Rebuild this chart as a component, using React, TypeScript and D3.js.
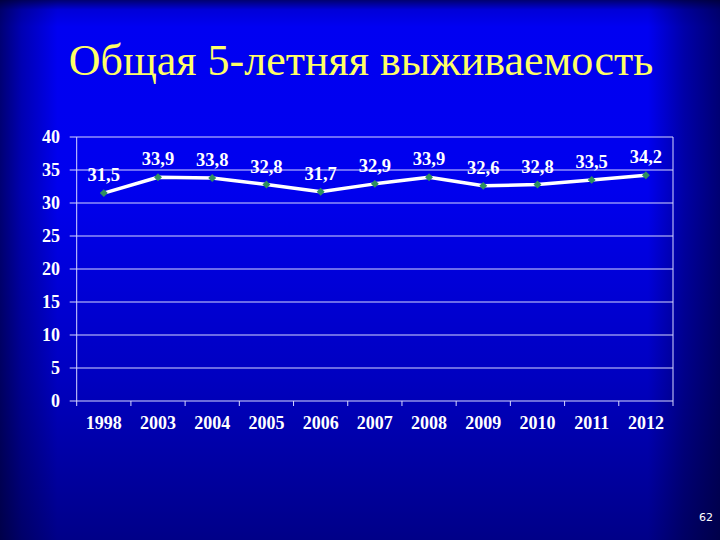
import React, { useEffect, useRef } from 'react';
import * as d3 from 'd3';

// ====

const years = ['1998', '2003', '2004', '2005', '2006', '2007', '2008', '2009', '2010', '2011', '2012'];
const survival = [31.5, 33.9, 33.8, 32.8, 31.7, 32.9, 33.9, 32.6, 32.8, 33.5, 34.2];
const yTicks = [0, 5, 10, 15, 20, 25, 30, 35, 40];

const title = 'Общая 5-летняя выживаемость';
const pageNumber = '62';

// ====

export default function App() {
    const node = useRef<SVGSVGElement | null>(null);

    useEffect(() => {
        const svg = d3.select(node.current);
        svg.selectAll('*').remove();

        const width = 720;
        const height = 540;
        const left = 76.7, right = 673, top = 137, bottom = 401;
        const serif = 'Times New Roman, serif';

        // background
        const defs = svg.append('defs');
        const vg = defs.append('linearGradient').attr('id', 'bgV').attr('x1', 0).attr('y1', 0).attr('x2', 0).attr('y2', 1);
        [[0, '#000070'], [0.018, '#0000d8'], [0.05, '#0000f2'], [0.35, '#0000ee'], [0.7, '#0000c0'], [1, '#000088']]
            .forEach(([o, c]) => vg.append('stop').attr('offset', o).attr('stop-color', c));
        const hg = defs.append('linearGradient').attr('id', 'bgH').attr('x1', 0).attr('y1', 0).attr('x2', 1).attr('y2', 0);
        [[0, 0.6], [0.03, 0.3], [0.08, 0], [0.9, 0], [0.95, 0.35], [1, 0.6]]
            .forEach(([o, a]) => hg.append('stop').attr('offset', o).attr('stop-color', '#000020').attr('stop-opacity', a));

        svg.append('rect').attr('width', width).attr('height', height).attr('fill', 'url(#bgV)');
        svg.append('rect').attr('width', width).attr('height', height).attr('fill', 'url(#bgH)');

        // title
        svg.append('text')
            .attr('x', 361)
            .attr('y', 75)
            .attr('text-anchor', 'middle')
            .style('font-family', serif)
            .style('font-size', '44px')
            .attr('fill', '#ffff66')
            .text(title);

        const x = d3.scaleBand().domain(years).range([left, right]);
        const y = d3.scaleLinear().domain([0, 40]).range([bottom, top]);

        // grid + y labels
        const g = svg.append('g');
        g.selectAll('.grid')
            .data(yTicks)
            .enter()
            .append('line')
            .attr('x1', left - 7)
            .attr('x2', right)
            .attr('y1', (d) => y(d))
            .attr('y2', (d) => y(d))
            .attr('stroke', '#d8d8ff')
            .attr('stroke-width', 1);

        g.selectAll('.ylab')
            .data(yTicks)
            .enter()
            .append('text')
            .attr('x', 60)
            .attr('y', (d) => y(d) + 6)
            .attr('text-anchor', 'end')
            .style('font-family', serif)
            .style('font-weight', 'bold')
            .style('font-size', '18px')
            .attr('fill', '#ffffff')
            .text((d) => d);

        // frame
        g.append('line').attr('x1', left).attr('x2', left).attr('y1', top).attr('y2', bottom).attr('stroke', '#d8d8ff');
        g.append('line').attr('x1', right).attr('x2', right).attr('y1', top).attr('y2', bottom).attr('stroke', '#d8d8ff');

        // x ticks at band edges
        const edges = years.map((d) => x(d) as number).concat([right]);
        g.selectAll('.xtick')
            .data(edges)
            .enter()
            .append('line')
            .attr('x1', (d) => d)
            .attr('x2', (d) => d)
            .attr('y1', bottom)
            .attr('y2', bottom + 5)
            .attr('stroke', '#d8d8ff');

        g.selectAll('.xlab')
            .data(years)
            .enter()
            .append('text')
            .attr('x', (d) => (x(d) as number) + x.bandwidth() / 2)
            .attr('y', 429)
            .attr('text-anchor', 'middle')
            .style('font-family', serif)
            .style('font-weight', 'bold')
            .style('font-size', '18px')
            .attr('fill', '#ffffff')
            .text((d) => d);

        // series
        const pts = years.map((d, i) => ({ year: d, value: survival[i] }));
        const cx = (d) => (x(d.year) as number) + x.bandwidth() / 2;

        const line = d3.line<any>().x(cx).y((d) => y(d.value));
        g.append('path')
            .attr('d', line(pts))
            .attr('fill', 'none')
            .attr('stroke', '#ffffff')
            .attr('stroke-width', 3.5)
            .attr('stroke-linejoin', 'round');

        const diamond = d3.symbol().type(d3.symbolDiamond2).size(40);
        g.selectAll('.mark')
            .data(pts)
            .enter()
            .append('path')
            .attr('d', diamond)
            .attr('transform', (d) => 'translate(' + cx(d) + ',' + y(d.value) + ')')
            .attr('fill', '#2f8f5f');

        g.selectAll('.vlab')
            .data(pts)
            .enter()
            .append('text')
            .attr('x', cx)
            .attr('y', (d) => y(d.value) - 12)
            .attr('text-anchor', 'middle')
            .style('font-family', serif)
            .style('font-weight', 'bold')
            .style('font-size', '18.5px')
            .attr('fill', '#ffffff')
            .text((d) => d3.format('.1f')(d.value).replace('.', ','));

        // page number
        svg.append('text')
            .attr('x', 706)
            .attr('y', 521)
            .attr('text-anchor', 'middle')
            .style('font-family', 'DejaVu Sans, sans-serif')
            .style('font-size', '11px')
            .attr('fill', '#ffffff')
            .text(pageNumber);
    }, []);

    return (
        <svg
            ref={node}
            width={720}
            height={540}
            style={{ position: 'absolute', left: 0, top: 0, display: 'block' }}>
        </svg>
    );
}
